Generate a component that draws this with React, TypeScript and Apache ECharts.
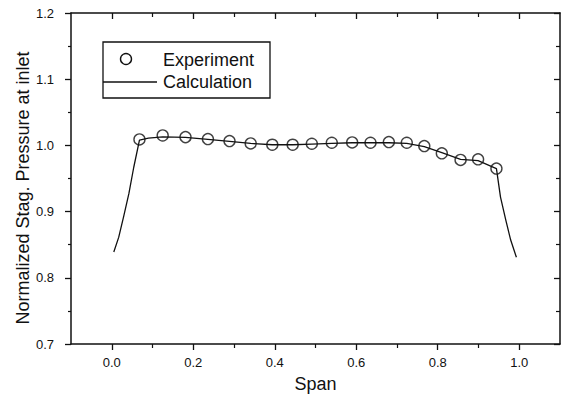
import React, { useEffect, useRef } from "react";
import * as echarts from "echarts";

const expSpan = [0.068, 0.125, 0.181, 0.236, 0.289, 0.341, 0.394, 0.444, 0.491, 0.54, 0.59, 0.635, 0.68, 0.724, 0.767, 0.81, 0.856, 0.899, 0.944];
const expValue = [1.009, 1.015, 1.0125, 1.0095, 1.0065, 1.003, 1.001, 1.001, 1.0025, 1.004, 1.0045, 1.004, 1.005, 1.004, 0.999, 0.988, 0.978, 0.979, 0.965];

const calcSpan = [0.005, 0.017, 0.029, 0.042, 0.054, 0.068, 0.09, 0.125, 0.181, 0.236, 0.289, 0.341, 0.394, 0.444, 0.491, 0.54, 0.59, 0.635, 0.68, 0.724, 0.767, 0.81, 0.856, 0.899, 0.944, 0.954, 0.967, 0.979, 0.993];
const calcValue = [0.839, 0.861, 0.892, 0.927, 0.967, 1.008, 1.011, 1.013, 1.012, 1.009, 1.006, 1.003, 1.001, 1.001, 1.002, 1.003, 1.004, 1.004, 1.004, 1.003, 0.998, 0.989, 0.979, 0.977, 0.965, 0.922, 0.887, 0.857, 0.831];

const xMajor = [0, 0.2, 0.4, 0.6, 0.8, 1.0];
const xMinor = [0.1, 0.3, 0.5, 0.7, 0.9];

const FONT = "'Liberation Sans', Arial, sans-serif";
const INK = "#111";

export default function App() {
  const ref = useRef<HTMLDivElement>(null);
  useEffect(() => {
    if (!ref.current) return;
    const chart = echarts.init(ref.current, null, { renderer: "svg" });
    const baseX = {
      type: "value" as const,
      min: -0.1,
      max: 1.1,
      splitLine: { show: false },
    };
    const baseY = {
      type: "value" as const,
      min: 0.7,
      max: 1.2,
      interval: 0.1,
      splitLine: { show: false },
    };
    chart.setOption({
      animation: false,
      backgroundColor: "#fff",
      grid: { left: 71, right: 9, top: 13, bottom: 57 },
      xAxis: [
        {
          ...baseX,
          position: "bottom",
          name: "Span",
          nameLocation: "middle",
          nameGap: 31,
          nameTextStyle: { fontFamily: FONT, fontSize: 18, color: INK },
          axisLine: { show: true, onZero: false, lineStyle: { color: INK, width: 1.5 } },
          axisTick: { show: true, length: 6, inside: false, customValues: xMajor, lineStyle: { color: INK, width: 1.3 } },
          axisLabel: {
            show: true,
            customValues: xMajor,
            margin: 12,
            fontFamily: FONT,
            fontSize: 13,
            color: INK,
            formatter: (v: number) => v.toFixed(1),
          },
        },
        {
          ...baseX,
          position: "bottom",
          axisLine: { show: false, onZero: false },
          axisTick: { show: true, length: 4, inside: false, customValues: xMinor, lineStyle: { color: INK, width: 1.2 } },
          axisLabel: { show: false },
        },
        {
          ...baseX,
          position: "top",
          axisLine: { show: true, onZero: false, lineStyle: { color: INK, width: 1.5 } },
          axisTick: { show: true, length: 6, inside: true, customValues: xMajor, lineStyle: { color: INK, width: 1.3 } },
          axisLabel: { show: false },
        },
        {
          ...baseX,
          position: "top",
          axisLine: { show: false, onZero: false },
          axisTick: { show: true, length: 4, inside: true, customValues: xMinor, lineStyle: { color: INK, width: 1.2 } },
          axisLabel: { show: false },
        },
      ],
      yAxis: [
        {
          ...baseY,
          position: "left",
          axisLine: { show: true, onZero: false, lineStyle: { color: INK, width: 1.5 } },
          axisTick: { show: true, length: 6, inside: false, lineStyle: { color: INK, width: 1.3 } },
          minorTick: { show: true, splitNumber: 2, length: 3, lineStyle: { color: INK, width: 1.2 } },
          axisLabel: {
            show: true,
            margin: 17,
            fontFamily: FONT,
            fontSize: 13,
            color: INK,
            formatter: (v: number) => v.toFixed(1),
          },
        },
        {
          ...baseY,
          position: "right",
          axisLine: { show: true, onZero: false, lineStyle: { color: INK, width: 1.5 } },
          axisTick: { show: true, length: 6, inside: true, lineStyle: { color: INK, width: 1.3 } },
          minorTick: { show: true, splitNumber: 2, length: 4, lineStyle: { color: INK, width: 1.2 } },
          axisLabel: { show: false },
        },
      ],
      series: [
        {
          name: "Calculation",
          type: "line",
          xAxisIndex: 0,
          yAxisIndex: 0,
          data: calcSpan.map((x, i) => [x, calcValue[i]]),
          showSymbol: false,
          symbol: "none",
          lineStyle: { color: INK, width: 1.3 },
          z: 2,
        },
        {
          name: "Experiment",
          type: "scatter",
          xAxisIndex: 0,
          yAxisIndex: 0,
          data: expSpan.map((x, i) => [x, expValue[i]]),
          symbol: "circle",
          symbolSize: 11,
          itemStyle: { color: "rgba(0,0,0,0)", borderColor: INK, borderWidth: 1.4 },
          z: 3,
        },
      ],
      graphic: [
        {
          type: "text",
          x: 23,
          y: 188,
          rotation: Math.PI / 2,
          style: {
            text: "Normalized Stag. Pressure at inlet",
            fontFamily: FONT,
            fontSize: 18,
            fill: INK,
            align: "center",
            verticalAlign: "middle",
          },
        },
        {
          type: "rect",
          shape: { x: 103, y: 42, width: 167, height: 56 },
          style: { fill: "#fff", stroke: INK, lineWidth: 1.3 },
          z: 10,
        },
        {
          type: "circle",
          shape: { cx: 126, cy: 59, r: 5.5 },
          style: { fill: "none", stroke: INK, lineWidth: 1.4 },
          z: 11,
        },
        {
          type: "text",
          x: 163,
          y: 60,
          style: { text: "Experiment", fontFamily: FONT, fontSize: 18, fill: INK, align: "left", verticalAlign: "middle" },
          z: 11,
        },
        {
          type: "line",
          shape: { x1: 103, y1: 82, x2: 157, y2: 82 },
          style: { stroke: INK, lineWidth: 1.3 },
          z: 11,
        },
        {
          type: "text",
          x: 163,
          y: 82,
          style: { text: "Calculation", fontFamily: FONT, fontSize: 18, fill: INK, align: "left", verticalAlign: "middle" },
          z: 11,
        },
      ],
    });
    return () => chart.dispose();
  }, []);
  return <div ref={ref} style={{ width: 569, height: 401, position: "absolute", left: 0, top: 0 }} />;
}
